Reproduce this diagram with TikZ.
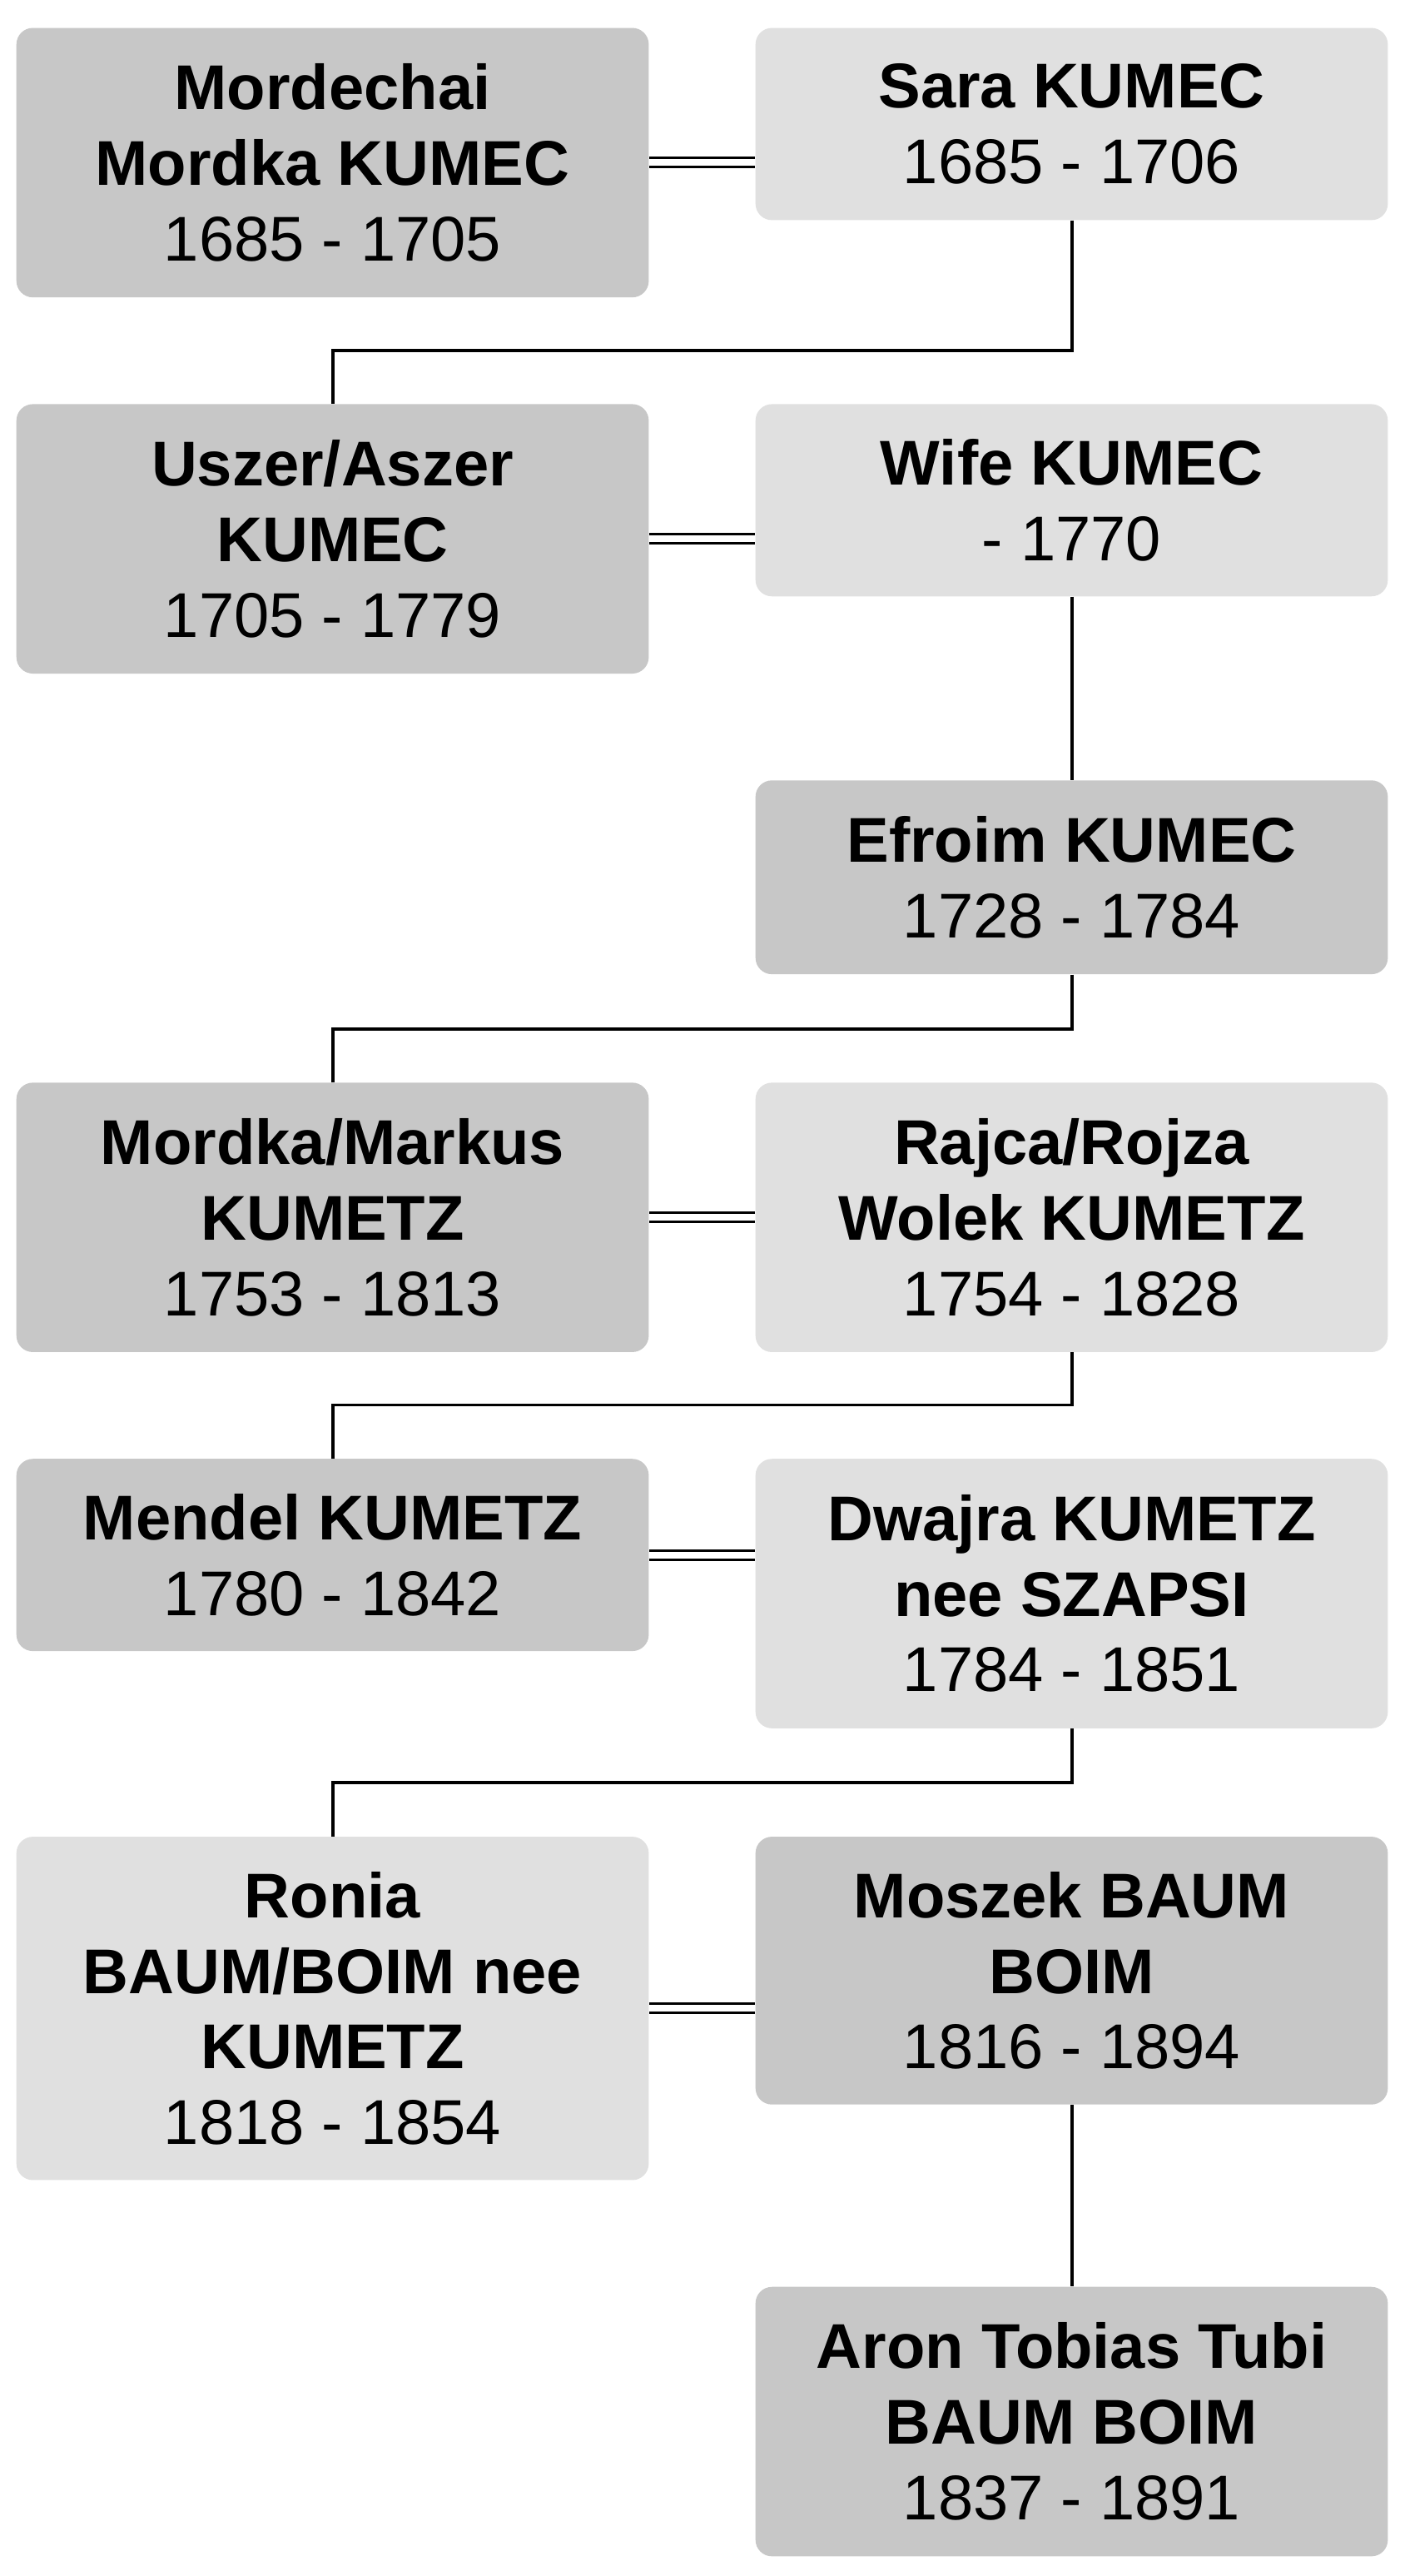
\documentclass[tikz,border=0pt]{standalone}
\usepackage{fontspec}
\setmainfont{Liberation Sans}
\begin{document}
\begin{tikzpicture}[x=1pt,y=-1pt,
 box/.style={rounded corners=10pt,minimum width=385pt,align=center,inner sep=0pt,font=\fontsize{38.5}{46}\selectfont},
 dark/.style={box,fill=black!22},
 light/.style={box,fill=black!12},
 mar/.style={double,double distance=4pt,line width=1.5pt},
 ch/.style={line width=2pt}]
\useasboundingbox (0,0) rectangle (855,1568);
\node[dark,minimum height=164pt] (a1) at (202.5,99) {\textbf{Mordechai}\\\textbf{Mordka KUMEC}\\1685 - 1705};
\node[light,minimum height=117pt] (b1) at (652.5,75.5) {\textbf{Sara KUMEC}\\1685 - 1706};
\node[dark,minimum height=164pt] (a2) at (202.5,328) {\textbf{Uszer/Aszer}\\\textbf{KUMEC}\\1705 - 1779};
\node[light,minimum height=117pt] (b2) at (652.5,304.5) {\textbf{Wife KUMEC}\\- 1770};
\node[dark,minimum height=118pt] (b3) at (652.5,534) {\textbf{Efroim KUMEC}\\1728 - 1784};
\node[dark,minimum height=164pt] (a4) at (202.5,741) {\textbf{Mordka/Markus}\\\textbf{KUMETZ}\\1753 - 1813};
\node[light,minimum height=164pt] (b4) at (652.5,741) {\textbf{Rajca/Rojza}\\\textbf{Wolek KUMETZ}\\1754 - 1828};
\node[dark,minimum height=117pt] (a5) at (202.5,946.5) {\textbf{Mendel KUMETZ}\\1780 - 1842};
\node[light,minimum height=164pt] (b5) at (652.5,970) {\textbf{Dwajra KUMETZ}\\\textbf{nee SZAPSI}\\1784 - 1851};
\node[light,minimum height=209pt] (a6) at (202.5,1222.5) {\textbf{Ronia}\\\textbf{BAUM/BOIM nee}\\\textbf{KUMETZ}\\1818 - 1854};
\node[dark,minimum height=163pt] (b6) at (652.5,1199.5) {\textbf{Moszek BAUM}\\\textbf{BOIM}\\1816 - 1894};
\node[dark,minimum height=164pt] (b7) at (652.5,1474) {\textbf{Aron Tobias Tubi}\\\textbf{BAUM BOIM}\\1837 - 1891};
\foreach \l/\r in {a1/b1,a2/b2,a4/b4,a5/b5,a6/b6}
  \draw[mar] (\l.east) -- (\l.east -| \r.west);
\draw[ch] (b1.south) -- ++(0,79) -| (a2.north);
\draw[ch] (b2.south) -- (b3.north);
\draw[ch] (b3.south) -- ++(0,33) -| (a4.north);
\draw[ch] (b4.south) -- ++(0,32) -| (a5.north);
\draw[ch] (b5.south) -- ++(0,33) -| (a6.north);
\draw[ch] (b6.south) -- (b7.north);
\end{tikzpicture}
\end{document}
